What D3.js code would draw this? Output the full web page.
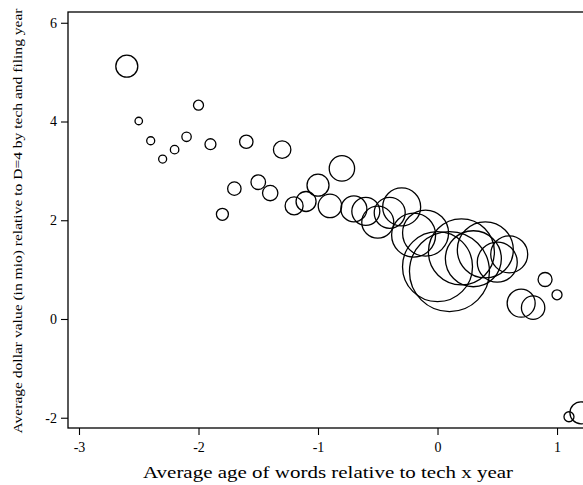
<!DOCTYPE html>
<html>
<head>
<meta charset="utf-8">
<script src="https://cdn.jsdelivr.net/npm/d3@7"></script>
<style>
  body { margin: 0; background: #fff; }
  svg text { font-family: "Liberation Serif", "DejaVu Serif", serif; fill: #000; }
</style>
</head>
<body>
<div id="d3"></div>
<script>
// binned average age of words (x) and average dollar value (y), one bubble per bin
var ageBins = [-2.6, -2.5, -2.4, -2.3, -2.2, -2.1, -2.0, -1.9, -1.8, -1.7,
               -1.6, -1.5, -1.4, -1.3, -1.2, -1.1, -1.0, -0.9, -0.8, -0.7,
               -0.6, -0.5, -0.4, -0.3, -0.2, -0.1, 0.0, 0.1, 0.2, 0.3,
               0.4, 0.5, 0.6, 0.7, 0.8, 0.9, 1.0, 1.1, 1.2];
var dollarValue = [5.12, 4.01, 3.61, 3.24, 3.43, 3.69, 4.33, 3.54, 2.12, 2.64,
                   3.59, 2.77, 2.55, 3.43, 2.29, 2.38, 2.71, 2.29, 3.05, 2.23,
                   2.18, 1.96, 2.15, 2.27, 1.70, 1.74, 1.06, 0.96, 1.36, 1.22,
                   1.40, 1.15, 1.31, 0.32, 0.23, 0.80, 0.49, -1.98, -1.90];
// bubble weight (number of observations in the bin)
var binWeight = [121, 14, 16, 16, 18, 22, 25, 30, 36, 45,
                 45, 53, 59, 76, 81, 100, 121, 137, 161, 169,
                 196, 256, 240, 361, 484, 529, 1225, 1600, 1089, 784,
                 784, 400, 342, 196, 137, 49, 25, 25, 121];

var xTicks = [-3, -2, -1, 0, 1];
var yTicks = [-2, 0, 2, 4, 6];

var data = ageBins.map(function(a, i) {
  return {age: a, value: dollarValue[i], w: binWeight[i]};
});

var width = 583, height = 485;
var plot = {left: 68, top: 12, right: 601, bottom: 428};

var svg = d3.select("#d3")
  .append("svg")
  .attr("width", width)
  .attr("height", height);

var x = d3.scaleLinear()
  .domain([-3.092, 1.368])
  .range([plot.left, plot.right]);

var y = d3.scaleLinear()
  .domain([-2.208, 6.218])
  .range([plot.bottom, plot.top]);

var r = d3.scaleSqrt()
  .domain([0, d3.max(binWeight)])
  .range([0, 40]);

// plot frame
svg.append("rect")
  .attr("x", plot.left)
  .attr("y", plot.top)
  .attr("width", plot.right - plot.left)
  .attr("height", plot.bottom - plot.top)
  .attr("fill", "none")
  .attr("stroke", "#000")
  .attr("stroke-width", 1.3);

// axes
var xAxis = svg.append("g")
  .attr("transform", "translate(0," + plot.bottom + ")")
  .call(d3.axisBottom(x).tickValues(xTicks).tickSize(7).tickPadding(7)
    .tickFormat(function(d) { return String(d); }));

var yAxis = svg.append("g")
  .attr("transform", "translate(" + plot.left + ",0)")
  .call(d3.axisLeft(y).tickValues(yTicks).tickSize(7).tickPadding(4)
    .tickFormat(function(d) { return String(d); }));

xAxis.attr("font-family", "Liberation Serif").attr("font-size", 14);
yAxis.attr("font-family", "Liberation Serif").attr("font-size", 14);
xAxis.select(".domain").remove();
yAxis.select(".domain").remove();
svg.selectAll(".tick line").attr("stroke", "#000").attr("stroke-width", 1.1);
svg.selectAll(".tick text").attr("fill", "#000");

// bubbles
svg.append("g")
  .selectAll("circle")
  .data(data)
  .enter()
  .append("circle")
    .attr("cx", function(d) { return x(d.age); })
    .attr("cy", function(d) { return y(d.value); })
    .attr("r", function(d) { return r(d.w); })
    .attr("fill", "none")
    .attr("stroke", "#000")
    .attr("stroke-width", 1.3);

// axis titles
svg.append("text")
  .attr("x", 328)
  .attr("y", 478)
  .attr("text-anchor", "middle")
  .attr("textLength", 370)
  .attr("lengthAdjust", "spacingAndGlyphs")
  .attr("font-size", 17)
  .text("Average age of words relative to tech x year");

svg.append("text")
  .attr("transform", "translate(22,221) rotate(-90)")
  .attr("text-anchor", "middle")
  .attr("textLength", 425)
  .attr("lengthAdjust", "spacingAndGlyphs")
  .attr("font-size", 12.5)
  .text("Average dollar value (in mio) relative to D=4 by tech and filing year");
</script>
</body>
</html>
